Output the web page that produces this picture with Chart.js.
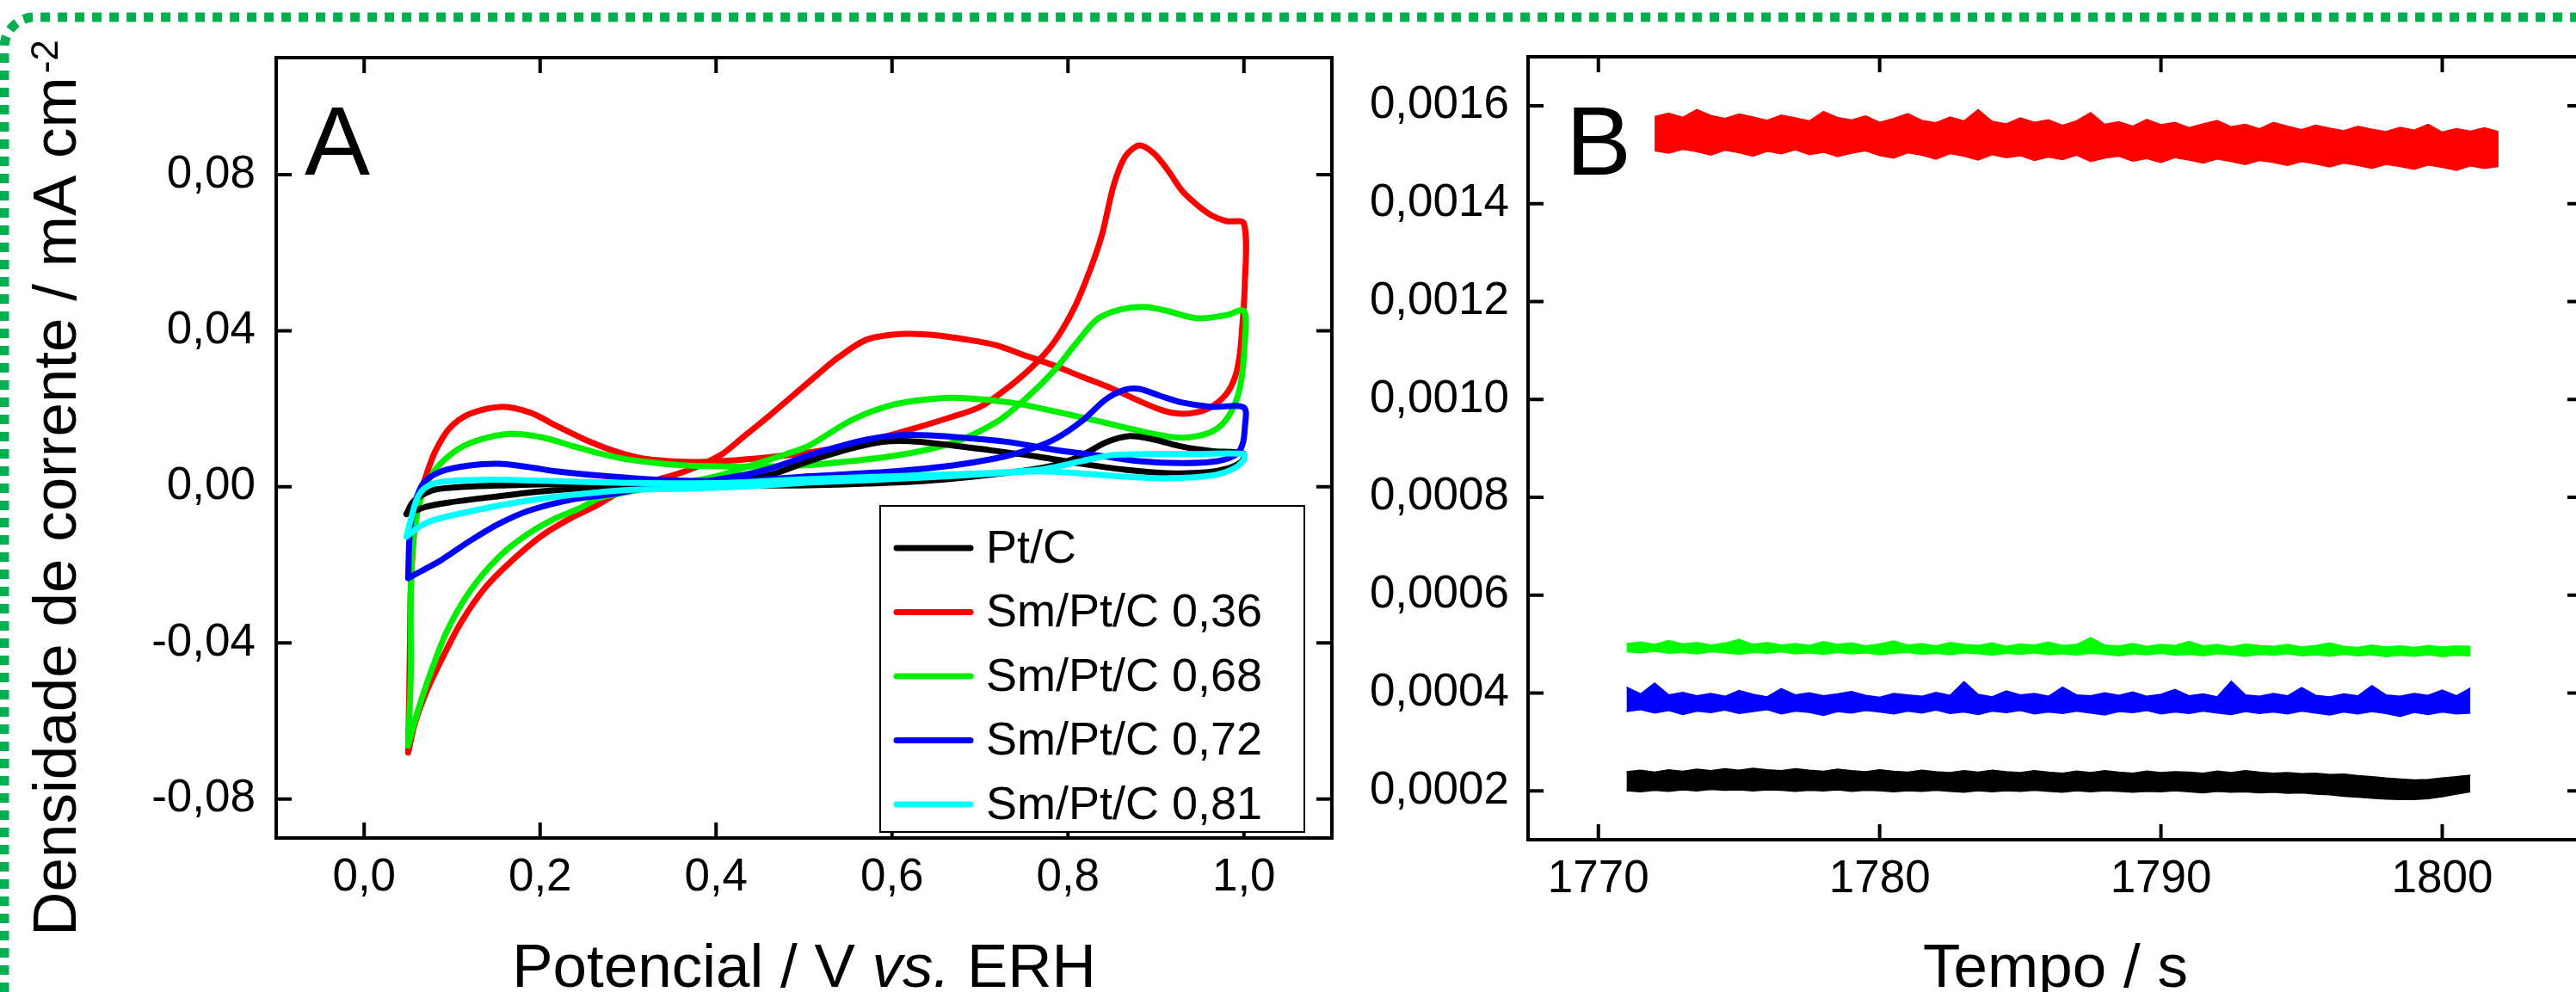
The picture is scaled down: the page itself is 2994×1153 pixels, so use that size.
<!DOCTYPE html>
<html>
<head>
<meta charset="utf-8">
<title>Voltametria e cronoamperometria</title>
<script src="https://cdn.jsdelivr.net/npm/chart.js@4.4.0/dist/chart.umd.min.js"></script>
<style>
  html, body { margin: 0; padding: 0; background: #fff; overflow: hidden; width: 2994px; height: 1153px; }
  canvas { position: absolute; top: 0; }
</style>
</head>
<body>
<canvas id="frame" width="2994" height="1153" style="left:0"></canvas>
<canvas id="chartA" width="1560" height="1153" style="left:0"></canvas>
<canvas id="chartB" width="1460" height="1153" style="left:1560px"></canvas>
<script>
// ---- data: panel A (cyclic voltammograms, potential V vs current mA cm-2) ----
var seriesNames = ['Pt/C', 'Sm/Pt/C 0,36', 'Sm/Pt/C 0,68', 'Sm/Pt/C 0,72', 'Sm/Pt/C 0,81'];

var ptcV = [0.048, 0.055, 0.065, 0.081, 0.114, 0.163, 0.212, 0.277, 0.35, 0.43, 0.506, 0.637, 0.735, 0.784, 0.816, 0.843, 0.869, 0.898, 0.930, 0.963, 0.999,
            1.0, 0.996, 0.983, 0.957, 0.914, 0.865, 0.816, 0.767, 0.718, 0.669, 0.620, 0.588, 0.555, 0.506, 0.46, 0.40, 0.34, 0.293, 0.244, 0.195, 0.146, 0.097, 0.071, 0.048];
var ptcI = [-0.0070, -0.0040, -0.0022, -0.0007, 0.0000, 0.0004, 0.0007, 0.0005, 0.0004, 0.0004, 0.0004, 0.0015, 0.0037, 0.0055, 0.0081, 0.0114, 0.0130, 0.0121, 0.0103, 0.0092, 0.0086,
            0.0075, 0.0062, 0.0048, 0.0037, 0.0035, 0.0044, 0.0059, 0.0077, 0.0092, 0.0106, 0.0117, 0.0115, 0.0099, 0.0066, 0.0030, 0.0010, 0.0003, 0.0000, -0.0004, -0.0013, -0.0026, -0.0040, -0.0051, -0.0070];

var sm36V = [0.050, 0.051, 0.052, 0.053, 0.057, 0.063, 0.071, 0.081, 0.097, 0.120, 0.156, 0.189, 0.218, 0.251, 0.284, 0.316, 0.365, 0.405, 0.447, 0.496, 0.550, 0.604, 0.669, 0.702, 0.735, 0.761, 0.784, 0.807, 0.826, 0.839, 0.852, 0.865, 0.881, 0.898, 0.914, 0.930, 0.947, 0.963, 0.980, 1.000,
             1.001, 0.998, 0.995, 0.990, 0.980, 0.963, 0.944, 0.924, 0.905, 0.881, 0.849, 0.816, 0.784, 0.751, 0.718, 0.686, 0.653, 0.614, 0.571, 0.538, 0.516, 0.463, 0.431, 0.405, 0.365, 0.333, 0.293, 0.264, 0.235, 0.202, 0.169, 0.137, 0.110, 0.088, 0.071, 0.058, 0.050];
var sm36I = [-0.0681, -0.0553, -0.0407, -0.0260, -0.0113, -0.0025, 0.0033, 0.0092, 0.0150, 0.0187, 0.0205, 0.0190, 0.0157, 0.0121, 0.0092, 0.0073, 0.0064, 0.0066, 0.0073, 0.0085, 0.0105, 0.0136, 0.0180, 0.0207, 0.0260, 0.0311, 0.0370, 0.0458, 0.0561, 0.0649, 0.0773, 0.0846, 0.0875, 0.0854, 0.0810, 0.0758, 0.0722, 0.0696, 0.0681, 0.0675,
             0.0516, 0.0407, 0.0334, 0.0282, 0.0238, 0.0205, 0.0190, 0.0188, 0.0198, 0.0220, 0.0253, 0.0282, 0.0311, 0.0337, 0.0363, 0.0377, 0.0388, 0.0392, 0.0377, 0.0330, 0.0289, 0.0187, 0.0128, 0.0081, 0.0040, 0.0018, -0.0011, -0.0048, -0.0080, -0.0125, -0.0187, -0.0260, -0.0348, -0.0443, -0.0524, -0.0604, -0.0681];

var sm68V = [0.050, 0.053, 0.053, 0.057, 0.065, 0.075, 0.091, 0.114, 0.143, 0.169, 0.202, 0.235, 0.267, 0.300, 0.333, 0.365, 0.398, 0.447, 0.506, 0.604, 0.669, 0.718, 0.751, 0.784, 0.810, 0.833, 0.859, 0.888, 0.914, 0.947, 0.980, 1.000,
             1.001, 0.996, 0.986, 0.970, 0.947, 0.921, 0.882, 0.833, 0.784, 0.735, 0.686, 0.653, 0.604, 0.555, 0.506, 0.480, 0.447, 0.414, 0.382, 0.333, 0.300, 0.267, 0.245, 0.218, 0.186, 0.153, 0.120, 0.094, 0.075, 0.061, 0.050];
var sm68I = [-0.0663, -0.0480, -0.0260, -0.0113, -0.0025, 0.0025, 0.0069, 0.0106, 0.0128, 0.0136, 0.0127, 0.0106, 0.0086, 0.0070, 0.0061, 0.0055, 0.0053, 0.0052, 0.0056, 0.0080, 0.0113, 0.0165, 0.0224, 0.0297, 0.0370, 0.0429, 0.0454, 0.0461, 0.0450, 0.0432, 0.0440, 0.0451,
             0.0370, 0.0260, 0.0194, 0.0150, 0.0130, 0.0127, 0.0143, 0.0169, 0.0194, 0.0216, 0.0227, 0.0227, 0.0212, 0.0172, 0.0106, 0.0084, 0.0060, 0.0035, 0.0018, 0.0000, -0.0013, -0.0029, -0.0055, -0.0080, -0.0121, -0.0180, -0.0268, -0.0370, -0.0480, -0.0575, -0.0663];

var sm72V = [0.050, 0.052, 0.058, 0.068, 0.088, 0.120, 0.153, 0.186, 0.218, 0.267, 0.333, 0.398, 0.450, 0.506, 0.604, 0.669, 0.718, 0.751, 0.784, 0.816, 0.843, 0.865, 0.881, 0.904, 0.930, 0.963, 1.000,
             1.001, 0.998, 0.990, 0.970, 0.930, 0.881, 0.833, 0.784, 0.735, 0.686, 0.643, 0.604, 0.571, 0.539, 0.506, 0.463, 0.431, 0.380, 0.330, 0.284, 0.235, 0.186, 0.153, 0.120, 0.088, 0.065, 0.050];
var sm72I = [-0.0234, -0.0113, -0.0040, 0.0011, 0.0040, 0.0055, 0.0059, 0.0051, 0.0040, 0.0029, 0.0018, 0.0015, 0.0018, 0.0027, 0.0040, 0.0055, 0.0073, 0.0092, 0.0121, 0.0169, 0.0224, 0.0249, 0.0251, 0.0234, 0.0216, 0.0205, 0.0203,
             0.0150, 0.0106, 0.0081, 0.0066, 0.0061, 0.0066, 0.0081, 0.0095, 0.0114, 0.0125, 0.0132, 0.0132, 0.0121, 0.0103, 0.0081, 0.0048, 0.0030, 0.0012, 0.0002, -0.0018, -0.0033, -0.0062, -0.0095, -0.0139, -0.0187, -0.0216, -0.0234];

var sm81V = [0.048, 0.053, 0.061, 0.071, 0.088, 0.130, 0.179, 0.244, 0.310, 0.408, 0.506, 0.669, 0.767, 0.816, 0.849, 0.898, 0.947, 1.000,
             0.999, 0.986, 0.963, 0.914, 0.865, 0.816, 0.767, 0.702, 0.637, 0.571, 0.506, 0.440, 0.375, 0.310, 0.261, 0.212, 0.163, 0.114, 0.081, 0.065, 0.048];
var sm81I = [-0.0128, -0.0084, -0.0026, 0.0000, 0.0013, 0.0018, 0.0017, 0.0013, 0.0010, 0.0010, 0.0020, 0.0032, 0.0044, 0.0066, 0.0081, 0.0084, 0.0084, 0.0084,
             0.0066, 0.0044, 0.0029, 0.0022, 0.0026, 0.0034, 0.0040, 0.0032, 0.0024, 0.0017, 0.0011, 0.0002, -0.0004, -0.0007, -0.0015, -0.0027, -0.0044, -0.0066, -0.0084, -0.0099, -0.0128];

var xTicksA = [0, 0.2, 0.4, 0.6, 0.8, 1.0];
var yTicksA = [-0.08, -0.04, 0, 0.04, 0.08];

// ---- data: panel B (chronoamperometry, noise band upper/lower edges) ----
var tB = [1771, 1771.5, 1772, 1772.5, 1773, 1773.5, 1774, 1774.5, 1775, 1775.5,
          1776, 1776.5, 1777, 1777.5, 1778, 1778.5, 1779, 1779.5, 1780, 1780.5,
          1781, 1781.5, 1782, 1782.5, 1783, 1783.5, 1784, 1784.5, 1785, 1785.5,
          1786, 1786.5, 1787, 1787.5, 1788, 1788.5, 1789, 1789.5, 1790, 1790.5,
          1791, 1791.5, 1792, 1792.5, 1793, 1793.5, 1794, 1794.5, 1795, 1795.5,
          1796, 1796.5, 1797, 1797.5, 1798, 1798.5, 1799, 1799.5, 1800, 1800.5,
          1801];
var tRed = [1772, 1772.5, 1773, 1773.5, 1774, 1774.5, 1775, 1775.5, 1776, 1776.5,
            1777, 1777.5, 1778, 1778.5, 1779, 1779.5, 1780, 1780.5, 1781, 1781.5,
            1782, 1782.5, 1783, 1783.5, 1784, 1784.5, 1785, 1785.5, 1786, 1786.5,
            1787, 1787.5, 1788, 1788.5, 1789, 1789.5, 1790, 1790.5, 1791, 1791.5,
            1792, 1792.5, 1793, 1793.5, 1794, 1794.5, 1795, 1795.5, 1796, 1796.5,
            1797, 1797.5, 1798, 1798.5, 1799, 1799.5, 1800, 1800.5, 1801, 1801.5,
            1802];

var ptcHi = [0.000239, 0.000242, 0.000238, 0.000243, 0.000240, 0.000244, 0.000241, 0.000245, 0.000242, 0.000246,
             0.000243, 0.000241, 0.000245, 0.000242, 0.000240, 0.000244, 0.000241, 0.000239, 0.000243, 0.000240,
             0.000238, 0.000242, 0.000239, 0.000237, 0.000241, 0.000238, 0.000242, 0.000239, 0.000237, 0.000241,
             0.000238, 0.000236, 0.000240, 0.000237, 0.000241, 0.000238, 0.000236, 0.000240, 0.000237, 0.000239,
             0.000238, 0.000236, 0.000240, 0.000237, 0.000241, 0.000238, 0.000236, 0.000237, 0.000235, 0.000236,
             0.000233, 0.000234, 0.000231, 0.000229, 0.000226, 0.000224, 0.000222, 0.000223, 0.000226, 0.000229,
             0.000232];
var ptcLo = [0.000200, 0.000198, 0.000201, 0.000199, 0.000202, 0.000200, 0.000203, 0.000201, 0.000202, 0.000200,
             0.000202, 0.000201, 0.000199, 0.000201, 0.000200, 0.000202, 0.000199, 0.000201, 0.000200, 0.000198,
             0.000200, 0.000199, 0.000201, 0.000199, 0.000197, 0.000200, 0.000198, 0.000200, 0.000199, 0.000201,
             0.000199, 0.000197, 0.000200, 0.000198, 0.000200, 0.000199, 0.000197, 0.000199, 0.000198, 0.000200,
             0.000198, 0.000196, 0.000199, 0.000197, 0.000198, 0.000196, 0.000197, 0.000195, 0.000196, 0.000193,
             0.000192, 0.000189, 0.000187, 0.000185, 0.000183, 0.000182, 0.000182, 0.000184, 0.000188, 0.000193,
             0.000198];

var red36Hi = [0.001578, 0.001585, 0.001576, 0.001592, 0.001580, 0.001574, 0.001583, 0.001577, 0.001570, 0.001581,
               0.001575, 0.001569, 0.001588, 0.001576, 0.001571, 0.001579, 0.001566, 0.001574, 0.001584, 0.001570,
               0.001565, 0.001577, 0.001569, 0.001592, 0.001568, 0.001563, 0.001575, 0.001566, 0.001571, 0.001560,
               0.001569, 0.001586, 0.001562, 0.001567, 0.001558, 0.001572, 0.001561, 0.001566, 0.001555, 0.001563,
               0.001570, 0.001557, 0.001562, 0.001553, 0.001566, 0.001558, 0.001551, 0.001560, 0.001554, 0.001549,
               0.001558, 0.001552, 0.001547, 0.001556, 0.001550, 0.001562, 0.001546, 0.001553, 0.001548, 0.001555,
               0.001547];
var red36Lo = [0.001508, 0.001503, 0.001511, 0.001506, 0.001499, 0.001509, 0.001504, 0.001497, 0.001507, 0.001502,
               0.001510, 0.001500, 0.001505, 0.001496, 0.001503, 0.001508, 0.001498, 0.001493, 0.001504, 0.001499,
               0.001491, 0.001502, 0.001497, 0.001489, 0.001500, 0.001494, 0.001498, 0.001488, 0.001495, 0.001490,
               0.001499, 0.001486, 0.001493, 0.001497, 0.001487, 0.001492, 0.001484, 0.001494, 0.001489, 0.001483,
               0.001491, 0.001486, 0.001480, 0.001488, 0.001484, 0.001478, 0.001486, 0.001481, 0.001475, 0.001483,
               0.001478, 0.001472, 0.001480, 0.001476, 0.001470, 0.001479, 0.001474, 0.001468, 0.001477, 0.001472,
               0.001476];

var green68Hi = [0.000501, 0.000504, 0.000499, 0.000507, 0.000500, 0.000503, 0.000498, 0.000502, 0.000509, 0.000499,
                 0.000503, 0.000498, 0.000501, 0.000497, 0.000505, 0.000499, 0.000502, 0.000496, 0.000500, 0.000506,
                 0.000498, 0.000501, 0.000496, 0.000503, 0.000499, 0.000497, 0.000502, 0.000495, 0.000500, 0.000498,
                 0.000504, 0.000497, 0.000499, 0.000513, 0.000498, 0.000496, 0.000501, 0.000495, 0.000499, 0.000497,
                 0.000505, 0.000496, 0.000499, 0.000494, 0.000500, 0.000497, 0.000495, 0.000499, 0.000494, 0.000497,
                 0.000502, 0.000495, 0.000493, 0.000498, 0.000494, 0.000496, 0.000493, 0.000497, 0.000494, 0.000496,
                 0.000495];
var green68Lo = [0.000484, 0.000482, 0.000485, 0.000481, 0.000483, 0.000480, 0.000484, 0.000482, 0.000479, 0.000483,
                 0.000481, 0.000484, 0.000480, 0.000482, 0.000479, 0.000483, 0.000480, 0.000482, 0.000478, 0.000481,
                 0.000483, 0.000479, 0.000481, 0.000478, 0.000482, 0.000480, 0.000477, 0.000481, 0.000479, 0.000482,
                 0.000478, 0.000480, 0.000477, 0.000481, 0.000479, 0.000476, 0.000480, 0.000478, 0.000481, 0.000477,
                 0.000479, 0.000476, 0.000480, 0.000478, 0.000475, 0.000479, 0.000477, 0.000480, 0.000476, 0.000478,
                 0.000475, 0.000479, 0.000476, 0.000478, 0.000474, 0.000477, 0.000475, 0.000478, 0.000474, 0.000477,
                 0.000476];

var blue72Hi = [0.000412, 0.000398, 0.000420, 0.000396, 0.000401, 0.000394, 0.000399, 0.000393, 0.000405, 0.000397,
                0.000392, 0.000409, 0.000396, 0.000400, 0.000394, 0.000398, 0.000403, 0.000395, 0.000391, 0.000399,
                0.000396, 0.000393, 0.000401, 0.000395, 0.000423, 0.000397, 0.000392, 0.000404, 0.000396, 0.000399,
                0.000393, 0.000412, 0.000396, 0.000394, 0.000400, 0.000395, 0.000402, 0.000393, 0.000397, 0.000407,
                0.000394, 0.000398, 0.000392, 0.000424, 0.000396, 0.000393, 0.000399, 0.000394, 0.000411, 0.000395,
                0.000392, 0.000398, 0.000394, 0.000415, 0.000396, 0.000393, 0.000399, 0.000395, 0.000406, 0.000394,
                0.000410];
var blue72Lo = [0.000362, 0.000366, 0.000359, 0.000364, 0.000356, 0.000363, 0.000360, 0.000365, 0.000358, 0.000362,
                0.000366, 0.000357, 0.000363, 0.000360, 0.000354, 0.000362, 0.000359, 0.000364, 0.000361, 0.000357,
                0.000363, 0.000359, 0.000365, 0.000358, 0.000361, 0.000356, 0.000363, 0.000360, 0.000364, 0.000357,
                0.000361, 0.000358, 0.000363, 0.000359, 0.000355, 0.000362, 0.000360, 0.000364, 0.000357, 0.000361,
                0.000358, 0.000363, 0.000359, 0.000356, 0.000362, 0.000358, 0.000361, 0.000357, 0.000363, 0.000359,
                0.000355, 0.000361, 0.000357, 0.000362, 0.000358, 0.000352, 0.000360, 0.000356, 0.000361, 0.000357,
                0.000359];

var xTicksB = [1770, 1780, 1790, 1800];
var yTicksB = [0.0002, 0.0004, 0.0006, 0.0008, 0.0010, 0.0012, 0.0014, 0.0016];

// ---- texts ----
var yTitle = 'Densidade de corrente / mA cm';
var yTitleSup = '-2';
var xTitleA = [['Potencial / V ', ''], ['vs.', 'italic '], [' ERH', '']];
var xTitleB = 'Tempo / s';

var FONT = "'Liberation Sans', Arial, sans-serif";
Chart.defaults.font.family = FONT;
Chart.defaults.color = '#000';

function pts(xs, ys) {
  return xs.map(function (x, i) { return {x: x, y: ys[i]}; });
}
function comma(dec) {
  return function (v) { return Number(v).toFixed(dec).replace('.', ','); };
}

// dotted green frame behind everything
var fc = document.getElementById('frame').getContext('2d');
fc.strokeStyle = '#00b050';
fc.lineWidth = 11;
fc.setLineDash([11, 9]);
fc.beginPath();
fc.moveTo(5, 1153);
fc.lineTo(5, 55);
fc.arcTo(5, 20, 40, 20, 35);
fc.lineTo(2994, 20);
fc.stroke();

// box around the plot area + inward ticks on all four sides
var boxTicks = {
  id: 'boxTicks',
  afterDatasetsDraw: function (chart) {
    var ctx = chart.ctx, a = chart.chartArea, sx = chart.scales.x, sy = chart.scales.y;
    var len = 18;
    ctx.save();
    ctx.strokeStyle = '#000';
    ctx.lineWidth = 4;
    ctx.beginPath();
    sx.ticks.forEach(function (t) {
      var p = sx.getPixelForValue(t.value);
      ctx.moveTo(p, a.bottom); ctx.lineTo(p, a.bottom - len);
      ctx.moveTo(p, a.top); ctx.lineTo(p, a.top + len);
    });
    sy.ticks.forEach(function (t) {
      var p = sy.getPixelForValue(t.value);
      ctx.moveTo(a.left, p); ctx.lineTo(a.left + len, p);
      ctx.moveTo(a.right, p); ctx.lineTo(a.right - len, p);
    });
    ctx.stroke();
    ctx.strokeRect(a.left, a.top, a.right - a.left, a.bottom - a.top);
    ctx.restore();
  }
};

var cvLegend = {
  id: 'cvLegend',
  afterDraw: function (chart) {
    var ctx = chart.ctx;
    ctx.save();
    ctx.fillStyle = '#fff';
    ctx.fillRect(1023, 588, 493, 379);
    ctx.strokeStyle = '#000';
    ctx.lineWidth = 2;
    ctx.strokeRect(1023, 588, 493, 379);
    ctx.font = '54px ' + FONT;
    ctx.textBaseline = 'middle';
    chart.data.datasets.forEach(function (ds, i) {
      var y = 637 + i * 74.5;
      ctx.strokeStyle = ds.borderColor;
      ctx.lineWidth = 7;
      ctx.lineCap = 'round';
      ctx.beginPath();
      ctx.moveTo(1042, y);
      ctx.lineTo(1128, y);
      ctx.stroke();
      ctx.fillStyle = '#000';
      ctx.fillText(ds.label, 1146, y + 2);
    });
    ctx.restore();
  }
};

var textsA = {
  id: 'textsA',
  afterDraw: function (chart) {
    var ctx = chart.ctx, a = chart.chartArea;
    ctx.save();
    ctx.fillStyle = '#000';
    ctx.textBaseline = 'alphabetic';
    ctx.font = '114px ' + FONT;
    ctx.fillText('A', 354, 203);

    // x title with italic "vs."
    var total = 0;
    xTitleA.forEach(function (p) { ctx.font = p[1] + '71px ' + FONT; total += ctx.measureText(p[0]).width; });
    var x = (a.left + a.right) / 2 - total / 2;
    xTitleA.forEach(function (p) {
      ctx.font = p[1] + '71px ' + FONT;
      ctx.fillText(p[0], x, 1147);
      x += ctx.measureText(p[0]).width;
    });

    // rotated y title with superscript
    ctx.translate(88, 567);
    ctx.rotate(-Math.PI / 2);
    ctx.font = '71px ' + FONT;
    var w1 = ctx.measureText(yTitle).width;
    ctx.font = '44px ' + FONT;
    var w2 = ctx.measureText(yTitleSup).width;
    var x0 = -(w1 + w2 + 4) / 2;
    ctx.font = '71px ' + FONT;
    ctx.fillText(yTitle, x0, 0);
    ctx.font = '44px ' + FONT;
    ctx.fillText(yTitleSup, x0 + w1 + 4, -21);
    ctx.restore();
  }
};

var textsB = {
  id: 'textsB',
  afterDraw: function (chart) {
    var ctx = chart.ctx, a = chart.chartArea;
    ctx.save();
    ctx.fillStyle = '#000';
    ctx.textBaseline = 'alphabetic';
    ctx.font = '114px ' + FONT;
    ctx.fillText('B', 260, 203);
    ctx.font = '71px ' + FONT;
    ctx.textAlign = 'center';
    ctx.fillText(xTitleB, (a.left + a.right) / 2, 1147);
    ctx.restore();
  }
};

function axis(min, max, ticks, fmt, fitKey, fitVal, pad) {
  return {
    type: 'linear',
    min: min,
    max: max,
    afterBuildTicks: function (s) { s.ticks = ticks.map(function (v) { return {value: v}; }); },
    afterFit: function (s) { s[fitKey] = fitVal; },
    grid: {display: false, drawTicks: false},
    border: {display: false},
    ticks: {font: {size: 53}, padding: pad, callback: fmt, autoSkip: false, maxRotation: 0, color: '#000'}
  };
}

// ---- panel A ----
var cvColors = ['#000000', '#ff0000', '#00ee00', '#0000ff', '#00ffff'];
var cvOrder = [2, 4, 3, 1, 0];
var cvData = [pts(ptcV, ptcI), pts(sm36V, sm36I), pts(sm68V, sm68I), pts(sm72V, sm72I), pts(sm81V, sm81I)];

new Chart(document.getElementById('chartA'), {
  type: 'line',
  data: {
    datasets: cvData.map(function (d, i) {
      return {
        label: seriesNames[i],
        data: d,
        borderColor: cvColors[i],
        backgroundColor: cvColors[i],
        borderWidth: 7,
        pointRadius: 0,
        tension: 0.3,
        borderJoinStyle: 'round',
        borderCapStyle: 'round',
        fill: false,
        order: cvOrder[i]
      };
    })
  },
  options: {
    responsive: false,
    animation: false,
    devicePixelRatio: 1,
    layout: {padding: {top: 67, right: 12, left: 0, bottom: 0}},
    plugins: {legend: {display: false}, tooltip: {enabled: false}},
    scales: {
      x: axis(-0.1, 1.1, xTicksA, comma(1), 'height', 179, 15),
      y: axis(-0.09, 0.11, yTicksA, comma(2), 'width', 321, 24)
    }
  },
  plugins: [boxTicks, cvLegend, textsA]
});

// ---- panel B ----
var bands = [
  {t: tB, hi: ptcHi, lo: ptcLo, c: '#000000'},
  {t: tRed, hi: red36Hi, lo: red36Lo, c: '#ff0000'},
  {t: tB, hi: green68Hi, lo: green68Lo, c: '#00ff00'},
  {t: tB, hi: blue72Hi, lo: blue72Lo, c: '#0000ff'}
];
var bDatasets = [];
bands.forEach(function (b, i) {
  bDatasets.push({label: seriesNames[i] + ' max', data: pts(b.t, b.hi), borderColor: b.c, backgroundColor: b.c,
                  borderWidth: 1.5, pointRadius: 0, tension: 0, fill: false});
  bDatasets.push({label: seriesNames[i] + ' min', data: pts(b.t, b.lo), borderColor: b.c, backgroundColor: b.c,
                  borderWidth: 1.5, pointRadius: 0, tension: 0, fill: '-1'});
});

new Chart(document.getElementById('chartB'), {
  type: 'line',
  data: {datasets: bDatasets},
  options: {
    responsive: false,
    animation: false,
    devicePixelRatio: 1,
    layout: {padding: {top: 66, right: 18, left: 0, bottom: 0}},
    plugins: {legend: {display: false}, tooltip: {enabled: false}},
    scales: {
      x: axis(1767.5, 1805, xTicksB, function (v) { return String(v); }, 'height', 177, 15),
      y: axis(0.0001, 0.0017, yTicksB, comma(4), 'width', 216, 22)
    }
  },
  plugins: [boxTicks, textsB]
});
</script>
</body>
</html>
